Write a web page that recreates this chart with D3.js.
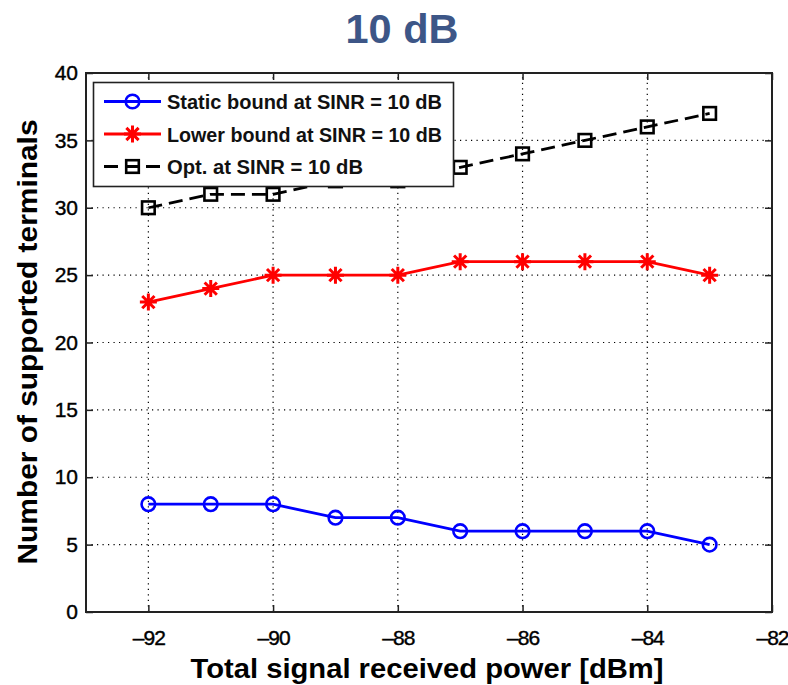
<!DOCTYPE html>
<html>
<head>
<meta charset="utf-8">
<script src="https://cdn.jsdelivr.net/npm/d3@7"></script>
<style>
  body { margin: 0; background: #fff; }
  svg { display: block; }
  text { font-family: "Liberation Sans", Arial, Helvetica, sans-serif; }
</style>
</head>
<body>
<script>
// Received power levels (dBm)
const power = [-92, -91, -90, -89, -88, -87, -86, -85, -84, -83];
// Supported terminals per scheme
const staticBound = [8, 8, 8, 7, 7, 6, 6, 6, 6, 5];
const lowerBound = [23, 24, 25, 25, 25, 26, 26, 26, 26, 25];
const optimal = [30, 31, 31, 32, 32, 33, 34, 35, 36, 37];
// Axis ticks
const xTicks = [-92, -90, -88, -86, -84, -82];
const yTicks = [0, 5, 10, 15, 20, 25, 30, 35, 40];
const seriesNames = ["Static bound at SINR = 10 dB", "Lower bound at SINR = 10 dB", "Opt. at SINR = 10 dB"];
const legendWidths = [275, 275, 196];

const W = 788, H = 685;
const margin = { left: 86, right: 16, top: 73, bottom: 73 };
const svg = d3.select("body").append("svg").attr("width", W).attr("height", H);

const x = d3.scaleLinear().domain([-93, -82]).range([margin.left, W - margin.right]);
const y = d3.scaleLinear().domain([0, 40]).range([H - margin.bottom, margin.top]);
const x0 = x.range()[0], x1 = x.range()[1], y0 = y.range()[0], y1 = y.range()[1];

// Title
svg.append("text").attr("x", 402).attr("y", 43).attr("text-anchor", "middle")
  .style("font-size", "41px").style("font-weight", "bold").attr("fill", "#3d5687")
  .attr("textLength", 113).attr("lengthAdjust", "spacingAndGlyphs")
  .text("10 dB");

// Grid
const grid = svg.append("g").attr("stroke", "#000").attr("stroke-width", 1.2).attr("stroke-dasharray", "1.2,4.3");
xTicks.filter(t => t > -93 && t < -82).forEach(t => {
  grid.append("line").attr("x1", x(t)).attr("x2", x(t)).attr("y1", y0).attr("y2", y1);
});
yTicks.filter(t => t > 0 && t < 40).forEach(t => {
  grid.append("line").attr("x1", x0).attr("x2", x1).attr("y1", y(t)).attr("y2", y(t));
});

// Axes with mirrored ticks
const tickLen = 7;
const axB = svg.append("g").attr("transform", `translate(0,${y0})`)
  .call(d3.axisBottom(x).tickValues(xTicks).tickFormat(d => "\u2013" + Math.abs(d)).tickSizeInner(-tickLen).tickSizeOuter(0).tickPadding(18));
const axT = svg.append("g").attr("transform", `translate(0,${y1})`)
  .call(d3.axisTop(x).tickValues(xTicks).tickFormat("").tickSizeInner(-tickLen).tickSizeOuter(0));
const axL = svg.append("g").attr("transform", `translate(${x0},0)`)
  .call(d3.axisLeft(y).tickValues(yTicks).tickSizeInner(-tickLen).tickSizeOuter(0).tickPadding(8));
const axR = svg.append("g").attr("transform", `translate(${x1},0)`)
  .call(d3.axisRight(y).tickValues(yTicks).tickFormat("").tickSizeInner(-tickLen).tickSizeOuter(0));
[axB, axT, axL, axR].forEach(a => {
  a.select(".domain").remove();
  a.selectAll(".tick line").attr("stroke", "#222").attr("stroke-width", 1.5);
  a.selectAll("text").attr("fill", "#000").style("font-size", "21px")
    .attr("font-family", "Liberation Sans, Arial, sans-serif")
    .attr("stroke", "#000").attr("stroke-width", 0.4);
});
axB.selectAll("text").attr("dy", "0.7em").attr("letter-spacing", "-1px");
// Frame
svg.append("rect").attr("x", x0).attr("y", y1).attr("width", x1 - x0).attr("height", y0 - y1)
  .attr("fill", "none").attr("stroke", "#222").attr("stroke-width", 2);

// Axis labels
svg.append("text").attr("x", 427).attr("y", 678).attr("text-anchor", "middle")
  .style("font-size", "28px").style("font-weight", "bold").attr("fill", "#000")
  .attr("textLength", 473).attr("lengthAdjust", "spacingAndGlyphs")
  .text("Total signal received power [dBm]");
svg.append("text").attr("transform", `translate(37,342) rotate(-90)`).attr("text-anchor", "middle")
  .style("font-size", "28px").style("font-weight", "bold").attr("fill", "#000")
  .attr("textLength", 445).attr("lengthAdjust", "spacingAndGlyphs")
  .text("Number of supported terminals");

// Marker drawing helpers
function circleMarker(g, cx, cy, color) {
  g.append("circle").attr("cx", cx).attr("cy", cy).attr("r", 6.8)
    .attr("fill", "none").attr("stroke", color).attr("stroke-width", 2.6);
}
function starMarker(g, cx, cy, color) {
  const r = 8.5, d = r * 0.72;
  const p = `M${cx - r},${cy}L${cx + r},${cy}M${cx},${cy - r}L${cx},${cy + r}` +
            `M${cx - d},${cy - d}L${cx + d},${cy + d}M${cx - d},${cy + d}L${cx + d},${cy - d}`;
  g.append("path").attr("d", p).attr("stroke", color).attr("stroke-width", 3).attr("fill", "none");
}
function squareMarker(g, cx, cy, color) {
  const s = 6.3;
  g.append("rect").attr("x", cx - s).attr("y", cy - s).attr("width", 2 * s).attr("height", 2 * s)
    .attr("fill", "none").attr("stroke", color).attr("stroke-width", 2.6);
}

const series = [
  { values: staticBound, color: "#0000ff", dash: null, marker: circleMarker },
  { values: lowerBound, color: "#ff0000", dash: null, marker: starMarker },
  { values: optimal, color: "#000000", dash: "14,7", marker: squareMarker }
];

const line = d3.line().x((d, i) => x(power[i])).y(d => y(d));
const plot = svg.append("g");
series.forEach(s => {
  plot.append("path").datum(s.values).attr("d", line)
    .attr("fill", "none").attr("stroke", s.color).attr("stroke-width", 2.8)
    .attr("stroke-dasharray", s.dash);
  const mg = plot.append("g");
  s.values.forEach((v, i) => s.marker(mg, x(power[i]), y(v), s.color));
});

// Legend
const lg = svg.append("g");
lg.append("rect").attr("x", 93.5).attr("y", 82.5).attr("width", 360).attr("height", 104)
  .attr("fill", "#fff").attr("stroke", "#222").attr("stroke-width", 1.6);
series.forEach((s, i) => {
  const ly = 101.5 + i * 32.5;
  lg.append("line").attr("x1", 104).attr("x2", 161).attr("y1", ly).attr("y2", ly)
    .attr("stroke", s.color).attr("stroke-width", 2.8).attr("stroke-dasharray", s.dash ? "14,7" : null);
  s.marker(lg, 132.5, ly, s.color);
  lg.append("text").attr("x", 167).attr("y", ly + 7.5).style("font-size", "20px").style("font-weight", "bold")
    .attr("fill", "#111").attr("textLength", legendWidths[i]).attr("lengthAdjust", "spacingAndGlyphs")
    .text(seriesNames[i]);
});
</script>
</body>
</html>
